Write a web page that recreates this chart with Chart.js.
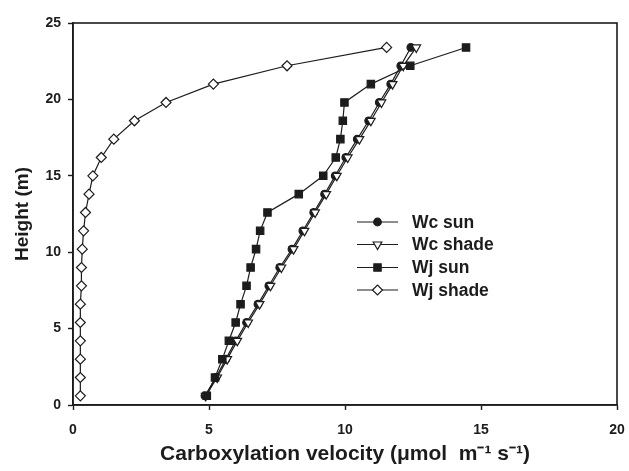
<!DOCTYPE html>
<html>
<head>
<meta charset="utf-8">
<script src="https://cdn.jsdelivr.net/npm/chart.js@4.4.0/dist/chart.umd.min.js"></script>
<style>
  html, body { margin: 0; padding: 0; background: #fff; }
  #wrap { width: 629px; height: 471px; position: relative; }
</style>
</head>
<body>
<div id="wrap"><canvas id="chart"></canvas></div>
<script>
// Heights of the canopy layers (m)
const heights = [0.6, 1.8, 3.0, 4.2, 5.4, 6.6, 7.8, 9.0, 10.2, 11.4, 12.6, 13.8, 15.0, 16.2, 17.4, 18.6, 19.8, 21.0, 22.2, 23.4];

// Carboxylation velocities
const wcSun   = [4.85, 5.25, 5.62, 5.98, 6.38, 6.80, 7.20, 7.60, 8.05, 8.45, 8.85, 9.25, 9.64, 10.03, 10.45, 10.87, 11.26, 11.68, 12.05, 12.42];
const wcShade = [4.88, 5.30, 5.67, 6.04, 6.44, 6.86, 7.26, 7.66, 8.11, 8.51, 8.90, 9.31, 9.70, 10.10, 10.53, 10.95, 11.34, 11.75, 12.14, 12.62];
const wjSun   = [4.92, 5.22, 5.49, 5.73, 5.98, 6.16, 6.38, 6.53, 6.73, 6.88, 7.15, 8.30, 9.20, 9.66, 9.83, 9.92, 9.98, 10.95, 12.40, 14.45];
const wjShade = [0.27, 0.27, 0.27, 0.27, 0.27, 0.27, 0.31, 0.31, 0.34, 0.39, 0.46, 0.59, 0.73, 1.04, 1.50, 2.26, 3.42, 5.16, 7.87, 11.53];

const seriesNames = ['Wc sun', 'Wc shade', 'Wj sun', 'Wj shade'];
const xTicks = [0, 5, 10, 15, 20];
const yTicks = [0, 5, 10, 15, 20, 25];

const ink = '#1c1c1c';
const fontFamily = '"Liberation Sans", Arial, Helvetica, sans-serif';

function toPoints(vals) {
  return vals.map((v, i) => ({ x: v, y: heights[i] }));
}

// marker styles per series
const styles = [
  { pointStyle: 'circle',   radius: 3.8, fill: ink,    rotation: 0 },
  { pointStyle: 'triangle', radius: 5,   fill: '#fff', rotation: 180 },
  { pointStyle: 'rect',     radius: 5.2, fill: ink,    rotation: 0 },
  { pointStyle: 'rectRot',  radius: 5,   fill: '#fff', rotation: 0 }
];
const allSeries = [wcSun, wcShade, wjSun, wjShade];
const drawOrder = [2, 1, 0, 3];

const datasets = allSeries.map((vals, i) => ({
  label: seriesNames[i],
  data: toPoints(vals),
  showLine: true,
  borderColor: ink,
  borderWidth: 1.2,
  pointStyle: styles[i].pointStyle,
  pointRadius: styles[i].radius,
  pointRotation: styles[i].rotation,
  pointBackgroundColor: styles[i].fill,
  pointBorderColor: ink,
  pointBorderWidth: 1.2,
  fill: false,
  tension: 0,
  order: drawOrder[i]
}));

// box around the plot area
const frame = {
  id: 'frame',
  afterDatasetsDraw(chart) {
    const a = chart.chartArea;
    const c = chart.ctx;
    c.save();
    c.strokeStyle = ink;
    c.lineWidth = 1.6;
    c.strokeRect(a.left, a.top, a.right - a.left, a.bottom - a.top);
    c.restore();
  }
};

// legend drawn inside the plot
const insideLegend = {
  id: 'insideLegend',
  afterDraw(chart) {
    const c = chart.ctx;
    const x0 = 357, x1 = 398, mx = 377.5, tx = 412;
    const rows = [222, 244.5, 267.5, 290];
    c.save();
    rows.forEach((y, i) => {
      c.strokeStyle = ink;
      c.lineWidth = 1.2;
      c.beginPath();
      c.moveTo(x0, y);
      c.lineTo(x1, y);
      c.stroke();
      c.fillStyle = styles[i].fill;
      c.strokeStyle = ink;
      c.lineWidth = 1.2;
      Chart.helpers.drawPoint(c, {
        pointStyle: styles[i].pointStyle,
        radius: styles[i].radius,
        rotation: styles[i].rotation,
        borderWidth: 1.2
      }, mx, y);
      c.fillStyle = ink;
      c.font = 'bold 17.5px ' + fontFamily;
      c.textBaseline = 'middle';
      c.textAlign = 'left';
      c.fillText(seriesNames[i], tx, y + 1);
    });
    c.restore();
  }
};

new Chart(document.getElementById('chart'), {
  type: 'scatter',
  data: { datasets: datasets },
  options: {
    responsive: true,
    maintainAspectRatio: false,
    animation: false,
    layout: { padding: { top: 23, right: 12, left: 0, bottom: 0 } },
    plugins: {
      legend: { display: false },
      tooltip: { enabled: false }
    },
    scales: {
      x: {
        type: 'linear',
        min: 0,
        max: 20,
        afterBuildTicks(scale) {
          scale.ticks = xTicks.map(v => ({ value: v }));
        },
        afterFit(scale) {
          scale.height = 66;
          scale.paddingLeft = 0;
          scale.paddingRight = 0;
        },
        border: { display: true, color: ink, width: 1.6 },
        grid: { drawOnChartArea: false, drawTicks: true, tickLength: 5, tickColor: ink, tickWidth: 1.4 },
        ticks: {
          color: ink,
          padding: 12,
          maxRotation: 0,
          font: { family: fontFamily, size: 14, weight: 'bold' }
        },
        title: {
          display: true,
          text: 'Carboxylation velocity (\u03bcmol  m\u207b\u00b9 s\u207b\u00b9)',
          color: ink,
          padding: { top: 0, bottom: 4 },
          font: { family: fontFamily, size: 21, weight: 'bold' }
        }
      },
      y: {
        type: 'linear',
        min: 0,
        max: 25,
        afterBuildTicks(scale) {
          scale.ticks = yTicks.map(v => ({ value: v }));
        },
        afterFit(scale) { scale.width = 73; },
        border: { display: true, color: ink, width: 1.6 },
        grid: { drawOnChartArea: false, drawTicks: true, tickLength: 5, tickColor: ink, tickWidth: 1.4 },
        ticks: {
          color: ink,
          padding: 7,
          font: { family: fontFamily, size: 14, weight: 'bold' }
        },
        title: {
          display: true,
          text: 'Height (m)',
          color: ink,
          padding: { top: 11, bottom: 0 },
          font: { family: fontFamily, size: 19, weight: 'bold' }
        }
      }
    }
  },
  plugins: [frame, insideLegend]
});
</script>
</body>
</html>
